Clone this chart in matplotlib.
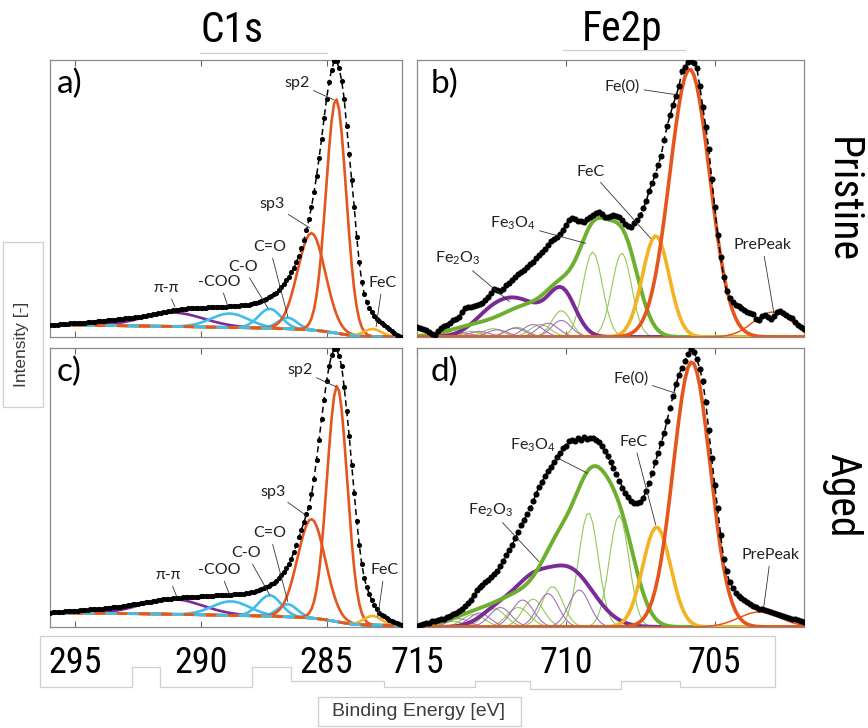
import numpy as np
import matplotlib
matplotlib.use("Agg")
import matplotlib.pyplot as plt
from matplotlib.patches import Rectangle, Polygon
from matplotlib.lines import Line2D
from matplotlib import font_manager

# ---------------------------------------------------------------- data
C1S_BE = np.round(np.arange(296.0, 281.95, -0.1), 1)
FE2P_BE = np.round(np.arange(715.0, 701.95, -0.1), 1)

C1S_PRISTINE = np.array([
    .043, .044, .045, .045, .046, .047, .048, .048, .049, .050,
    .050, .051, .051, .052, .052, .053, .054, .054, .055, .056,
    .057, .058, .059, .060, .061, .062, .063, .064, .065, .066,
    .067, .068, .069, .070, .071, .072, .073, .075, .077, .078,
    .080, .082, .084, .086, .088, .090, .092, .094, .095, .097,
    .098, .099, .100, .101, .102, .103, .103, .104, .104, .105,
    .105, .106, .106, .107, .107, .108, .108, .109, .109, .110,
    .110, .111, .111, .112, .113, .113, .114, .115, .116, .117,
    .119, .121, .124, .127, .130, .134, .138, .143, .148, .154,
    .160, .169, .180, .192, .205, .218, .233, .250, .270, .293,
    .320, .350, .385, .425, .470, .522, .580, .645, .715, .790,
    .860, .920, .965, .995, .995, .970, .925, .860, .760, .660,
    .565, .470, .360, .270, .200, .155, .125, .105, .090, .076,
    .065, .057, .050, .043, .036, .029, .022, .015, .009, .004,
    .001])

C1S_AGED = np.array([
    .051, .052, .053, .053, .054, .055, .056, .056, .057, .058,
    .058, .059, .060, .060, .061, .062, .063, .063, .064, .065,
    .065, .066, .067, .068, .069, .070, .071, .072, .073, .075,
    .076, .078, .079, .081, .082, .084, .085, .087, .088, .090,
    .091, .093, .094, .096, .097, .099, .100, .101, .102, .103,
    .104, .105, .105, .106, .107, .107, .108, .108, .109, .109,
    .110, .110, .111, .111, .112, .112, .113, .113, .114, .115,
    .115, .116, .116, .117, .117, .118, .119, .120, .121, .122,
    .124, .126, .128, .131, .135, .139, .143, .148, .153, .159,
    .166, .174, .185, .196, .210, .225, .245, .268, .295, .323,
    .348, .375, .405, .430, .475, .530, .600, .670, .745, .815,
    .880, .935, .975, .995, .995, .970, .935, .860, .775, .685,
    .580, .480, .380, .295, .225, .175, .142, .118, .095, .078,
    .064, .050, .044, .038, .031, .025, .021, .017, .013, .009,
    .006])

FE2P_PRISTINE = np.array([
    .037, .033, .028, .025, .018, .012, .008, .020, .032, .040,
    .045, .052, .060, .066, .072, .090, .103, .108, .110, .112,
    .115, .118, .124, .132, .145, .160, .172, .168, .166, .175,
    .186, .196, .204, .215, .226, .234, .243, .252, .262, .272,
    .284, .295, .306, .318, .332, .345, .352, .360, .372, .388,
    .405, .422, .428, .425, .420, .418, .415, .425, .435, .440,
    .446, .452, .445, .434, .432, .438, .440, .436, .432, .422,
    .408, .400, .398, .410, .422, .440, .465, .490, .528, .555,
    .585, .620, .655, .711, .760, .800, .838, .870, .905, .960,
    .975, .994, .998, .990, .970, .905, .830, .759, .680, .570,
    .470, .370, .290, .215, .165, .140, .125, .116, .112, .105,
    .098, .090, .085, .082, .065, .062, .076, .080, .072, .064,
    .075, .090, .094, .088, .080, .073, .068, .055, .045, .036,
    .030])

FE2P_AGED = np.array([
    .004, .006, .010, .013, .016, .020, .023, .025, .027, .030,
    .035, .040, .045, .050, .057, .066, .075, .085, .098, .115,
    .132, .145, .152, .160, .170, .180, .190, .202, .218, .238,
    .258, .275, .295, .318, .342, .366, .385, .405, .425, .450,
    .478, .502, .520, .540, .558, .575, .592, .608, .625, .640,
    .650, .665, .672, .668, .676, .672, .680, .674, .678, .676,
    .672, .664, .650, .632, .612, .590, .570, .550, .525, .500,
    .480, .465, .452, .445, .443, .448, .462, .488, .515, .552,
    .590, .625, .660, .694, .740, .785, .828, .870, .905, .930,
    .955, .978, .998, .985, .960, .925, .880, .805, .705, .605,
    .510, .425, .330, .245, .200, .160, .140, .121, .112, .104,
    .096, .090, .082, .074, .070, .066, .063, .060, .056, .052,
    .049, .046, .042, .038, .035, .032, .030, .027, .024, .020,
    .017])

# fitted components: (centre eV, height, sigma eV)
C1S_PRISTINE_PEAKS = {
    "pi-pi": (291.10, 0.050, 1.20),
    "COO": (288.85, 0.050, 0.75),
    "C-O": (287.26, 0.070, 0.45),
    "C=O": (286.55, 0.040, 0.38),
    "sp3": (285.60, 0.350, 0.55),
    "sp2": (284.62, 0.845, 0.40),
    "FeC": (283.17, 0.027, 0.35),
}
C1S_AGED_PEAKS = {
    "pi-pi": (291.15, 0.055, 1.20),
    "COO": (288.80, 0.050, 0.75),
    "C-O": (287.26, 0.075, 0.45),
    "C=O": (286.55, 0.045, 0.38),
    "sp3": (285.60, 0.355, 0.55),
    "sp2": (284.58, 0.845, 0.40),
    "FeC": (283.17, 0.033, 0.35),
}

FE2P_PRISTINE_MAIN = {
    "Fe0": [(705.84, 0.967, 0.67)],
    "FeC": [(706.98, 0.365, 0.45)],
    "Pre": [(703.05, 0.090, 0.65)],
    "Fe3O4": [(708.10, 0.35, 0.52), (709.08, 0.33, 0.48), (710.10, 0.15, 0.55),
              (711.30, 0.10, 0.80), (713.00, 0.04, 0.90)],
    "Fe2O3": [(710.12, 0.15, 0.45), (711.60, 0.13, 0.85), (712.60, 0.04, 0.60)],
}
FE2P_PRISTINE_MULT_FE3O4 = [(709.10, .307, .33), (708.12, .303, .33), (710.15, .095, .32),
                            (710.85, .045, .35), (711.65, .035, .35), (712.45, .030, .35),
                            (713.20, .020, .35), (713.90, .015, .35)]
FE2P_PRISTINE_MULT_FE2O3 = [(710.15, .060, .33), (710.60, .050, .35), (711.10, .045, .35),
                            (711.70, .032, .35), (712.30, .026, .35), (712.90, .020, .35),
                            (713.50, .015, .35), (714.10, .010, .35)]

FE2P_AGED_MAIN = {
    "Fe0": [(705.77, 0.950, 0.62)],
    "FeC": [(706.95, 0.358, 0.47)],
    "Pre": [(703.50, 0.054, 0.70)],
    "Fe3O4": [(708.20, 0.34, 0.55), (709.15, 0.44, 0.55), (710.20, 0.25, 0.60),
              (711.40, 0.10, 0.80), (712.90, 0.05, 0.90)],
    "Fe2O3": [(709.95, 0.21, 0.85), (711.20, 0.10, 0.55), (712.20, 0.07, 0.60)],
}
FE2P_AGED_MULT_FE3O4 = [(709.24, .410, .33), (708.21, .400, .33), (710.45, .145, .35),
                        (711.10, .100, .35), (711.60, .070, .38), (712.40, .065, .38),
                        (713.10, .045, .38), (713.80, .020, .38)]
FE2P_AGED_MULT_FE2O3 = [(709.55, .133, .35), (710.60, .120, .35), (711.45, .097, .36),
                        (712.20, .070, .36), (712.90, .050, .36), (713.60, .030, .36)]

# label text, text anchor (eV, intensity), leader-line end (eV, intensity)
C1S_PRISTINE_LABELS = [
    ("sp2", (286.19, .917), (284.70, .856)),
    ("sp3", (287.18, .480), (285.67, .394)),
    ("C=O", (287.26, .325), (286.54, .073)),
    ("C-O", (288.33, .253), (287.33, .104)),
    ("-COO", (289.25, .199), (288.92, .109)),
    ("π-π", (291.36, .177), (291.03, .109)),
    ("FeC", (282.78, .195), (283.03, .037)),
]
C1S_AGED_LABELS = [
    ("sp2", (286.07, .921), (284.62, .861)),
    ("sp3", (287.13, .485), (285.74, .395)),
    ("C=O", (287.26, .336), (286.54, .091)),
    ("C-O", (288.19, .264), (287.26, .115)),
    ("-COO", (289.25, .204), (288.85, .115)),
    ("π-π", (291.30, .186), (290.96, .109)),
    ("FeC", (282.70, .204), (282.96, .037)),
]
FE2P_PRISTINE_LABELS = [
    ("Fe(0)", (708.10, .904), (706.25, .874)),
    ("FeC", (709.16, .597), (707.15, .356)),
    ("Fe$_3$O$_4$", (711.79, .410), (709.33, .338)),
    ("Fe$_2$O$_3$", (713.63, .284), (711.90, .128)),
    ("PrePeak", (703.40, .332), (703.01, .086)),
]
FE2P_AGED_LABELS = [
    ("Fe(0)", (707.82, .891), (706.31, .838)),
    ("FeC", (707.71, .664), (706.98, .366)),
    ("Fe$_3$O$_4$", (711.12, .652), (709.27, .551)),
    ("Fe$_2$O$_3$", (712.52, .419), (710.90, .234)),
    ("PrePeak", (703.12, .258), (703.35, .073)),
]

C1S_TICKS = [295, 290, 285]
FE2P_TICKS = [710, 705]
FE2P_TICK_LABELS_AT = [715, 710, 705]

# ---------------------------------------------------------------- style
ORANGE = "#E4561E"
BLUE = "#41BDEA"
PURPLE = "#7B2B95"
YELLOW = "#F2B424"
GREEN = "#6DAF2E"
THIN_GREEN = "#93C857"
THIN_PURPLE = "#A66FBE"
C1S_COLORS = {"pi-pi": PURPLE, "COO": BLUE, "C-O": BLUE, "C=O": BLUE,
              "sp3": ORANGE, "sp2": ORANGE, "FeC": YELLOW}

installed = {f.name for f in font_manager.fontManager.ttflist}
NARROW = [f for f in ["Liberation Sans Narrow", "Roboto Condensed", "Liberation Sans"] if f in installed] + ["DejaVu Sans"]
LABEL_FONT = ["Lato", "DejaVu Sans"]
ARIAL = ["Liberation Sans", "DejaVu Sans"]

plt.rcParams["mathtext.fontset"] = "custom"
plt.rcParams["mathtext.rm"] = "Lato"
plt.rcParams["mathtext.it"] = "Lato:italic"
plt.rcParams["mathtext.bf"] = "Lato:bold"

W, H = 868, 728
fig = plt.figure(figsize=(W / 100, H / 100), dpi=100)
fig.patch.set_facecolor("white")


def px_rect(x0, y0, x1, y1):
    return [x0 / W, 1 - y1 / H, (x1 - x0) / W, (y1 - y0) / H]


def gauss(x, c, a, s):
    return a * np.exp(-0.5 * ((x - c) / s) ** 2)


def shirley(y):
    lo, hi = y[-1], y[0]
    area = np.cumsum((y - lo)[::-1])[::-1]
    return lo + (hi - lo) * area / area[0]


def style_axes(ax, xlim, ticks, show_labels, label_ticks=None):
    ax.set_xlim(*xlim)
    ax.set_ylim(0, 1.0)
    ax.set_yticks([])
    for sp in ax.spines.values():
        sp.set_color("#8a8a8a")
        sp.set_linewidth(0.9)
    ax.set_xticks(label_ticks if label_ticks else ticks)
    ax.tick_params(axis="x", direction="in", top=True, bottom=True, length=4,
                   width=0.8, color="#666666", labelsize=26, pad=13,
                   labelbottom=show_labels)
    if show_labels:
        for t in ax.get_xticklabels():
            t.set_fontfamily(NARROW)
        ax.set_xticklabels([str(v) for v in (label_ticks if label_ticks else ticks)])


def annotate(ax, labels, size=11.5):
    for text, xytext, xy in labels:
        ax.annotate(text, xy=xy, xytext=xytext, ha="center", va="center",
                    fontsize=size, family=LABEL_FONT, color="#222222", zorder=6,
                    arrowprops=dict(arrowstyle="-", lw=0.6, color="#333333",
                                    shrinkA=1, shrinkB=0))


def draw_c1s(ax, data, peaks, labels, letter):
    bg = shirley(data)
    for name, (c, a, s) in peaks.items():
        ax.plot(C1S_BE, bg + gauss(C1S_BE, c, a, s), color=C1S_COLORS[name], lw=1.9, zorder=3)
    ax.plot(C1S_BE, bg, color=ORANGE, lw=2.0, ls=(0, (4, 4)), zorder=3.5)
    ax.plot(C1S_BE, bg, color=BLUE, lw=2.0, ls=(4, (4, 4)), zorder=3.5)
    ax.plot(C1S_BE, data, ls=(0, (4, 2.5)), color="black", lw=1.1, zorder=4)
    ax.plot(C1S_BE, data, "o", color="black", ms=3.7, mew=0, zorder=5)
    annotate(ax, labels)
    ax.text(0.02, 0.915, letter, transform=ax.transAxes, fontsize=24,
            family=LABEL_FONT, ha="left", va="center")


def draw_fe2p(ax, data, main, mult34, mult23, labels, letter):
    x = FE2P_BE
    for c, a, s in mult34:
        ax.plot(x, gauss(x, c, a, s), color=THIN_GREEN, lw=0.8, zorder=2)
    for c, a, s in mult23:
        ax.plot(x, gauss(x, c, a, s), color=THIN_PURPLE, lw=0.8, zorder=2)
    curves = {k: sum(gauss(x, *p) for p in v) for k, v in main.items()}
    ax.plot(x, curves["Fe2O3"], color=PURPLE, lw=2.8, zorder=3)
    ax.plot(x, curves["Fe3O4"], color=GREEN, lw=2.8, zorder=3)
    ax.plot(x, curves["FeC"], color=YELLOW, lw=2.6, zorder=3.2)
    ax.plot(x, curves["Fe0"], color=ORANGE, lw=2.6, zorder=3.3)
    ax.plot(x, curves["Pre"], color=ORANGE, lw=1.1, zorder=3.3)
    ax.plot(x, data, ls=(0, (4, 2.5)), color="black", lw=1.1, zorder=4)
    ax.plot(x, data, "o", color="black", ms=4.4, mew=0, zorder=5)
    annotate(ax, labels)
    ax.text(0.035, 0.915, letter, transform=ax.transAxes, fontsize=24,
            family=LABEL_FONT, ha="left", va="center")


ax_a = fig.add_axes(px_rect(50, 60, 402, 337))
ax_b = fig.add_axes(px_rect(417, 60, 804, 337))
ax_c = fig.add_axes(px_rect(50, 348, 402, 627))
ax_d = fig.add_axes(px_rect(417, 348, 804, 627))

draw_c1s(ax_a, C1S_PRISTINE, C1S_PRISTINE_PEAKS, C1S_PRISTINE_LABELS, "a)")
draw_c1s(ax_c, C1S_AGED, C1S_AGED_PEAKS, C1S_AGED_LABELS, "c)")
draw_fe2p(ax_b, FE2P_PRISTINE, FE2P_PRISTINE_MAIN, FE2P_PRISTINE_MULT_FE3O4,
          FE2P_PRISTINE_MULT_FE2O3, FE2P_PRISTINE_LABELS, "b)")
draw_fe2p(ax_d, FE2P_AGED, FE2P_AGED_MAIN, FE2P_AGED_MULT_FE3O4,
          FE2P_AGED_MULT_FE2O3, FE2P_AGED_LABELS, "d)")

style_axes(ax_a, (296, 282), C1S_TICKS, False)
style_axes(ax_c, (296, 282), C1S_TICKS, True)
style_axes(ax_b, (715, 702), FE2P_TICKS, False)
style_axes(ax_d, (715, 702), FE2P_TICKS, True, FE2P_TICK_LABELS_AT)

# ---------------------------------------------------------------- headings
fig.text(232 / W, 1 - 30 / H, "C1s", fontsize=30, family=NARROW, ha="center", va="center")
fig.text(622 / W, 1 - 30 / H, "Fe2p", fontsize=30, family=NARROW, ha="center", va="center")
fig.text(842 / W, 1 - 200 / H, "Pristine", fontsize=30, family=NARROW, rotation=-90,
         ha="center", va="center")
fig.text(842 / W, 1 - 495 / H, "Aged", fontsize=30, family=NARROW, rotation=-90,
         ha="center", va="center")
fig.text(22 / W, 1 - 344 / H, "Intensity [-]", fontsize=12.5, family=ARIAL, rotation=90,
         ha="center", va="center", color="#3c3c3c")
fig.text(419 / W, 1 - 711 / H, "Binding Energy [eV]", fontsize=14, family=ARIAL,
         ha="center", va="center", color="#3c3c3c")

# light frames around the heading and axis-title boxes
FRAME = "#cfcfcf"
for x0, y0, x1, y1 in [(3, 242, 43, 407), (318, 697, 521, 726)]:
    fig.add_artist(Rectangle((x0 / W, 1 - y1 / H), (x1 - x0) / W, (y1 - y0) / H,
                             transform=fig.transFigure, fill=False, ec=FRAME, lw=0.9))
for x0, x1, y in [(200, 327, 53), (563, 685, 50)]:
    fig.add_artist(Line2D([x0 / W, x1 / W], [1 - y / H, 1 - y / H],
                          transform=fig.transFigure, color=FRAME, lw=0.9))
steps = [(40, 636), (775, 636), (775, 687), (680, 687), (680, 681), (621, 681),
         (621, 689), (530, 689), (530, 681), (475, 681), (475, 687), (384, 687),
         (384, 681), (291, 681), (291, 667), (252, 667), (252, 687), (160, 687),
         (160, 667), (132, 667), (132, 687), (40, 687)]
fig.add_artist(Polygon([(x / W, 1 - y / H) for x, y in steps], closed=True,
                       transform=fig.transFigure, fill=False, ec=FRAME, lw=0.9, zorder=0))

fig.savefig("out.png", dpi=100, facecolor="white")
